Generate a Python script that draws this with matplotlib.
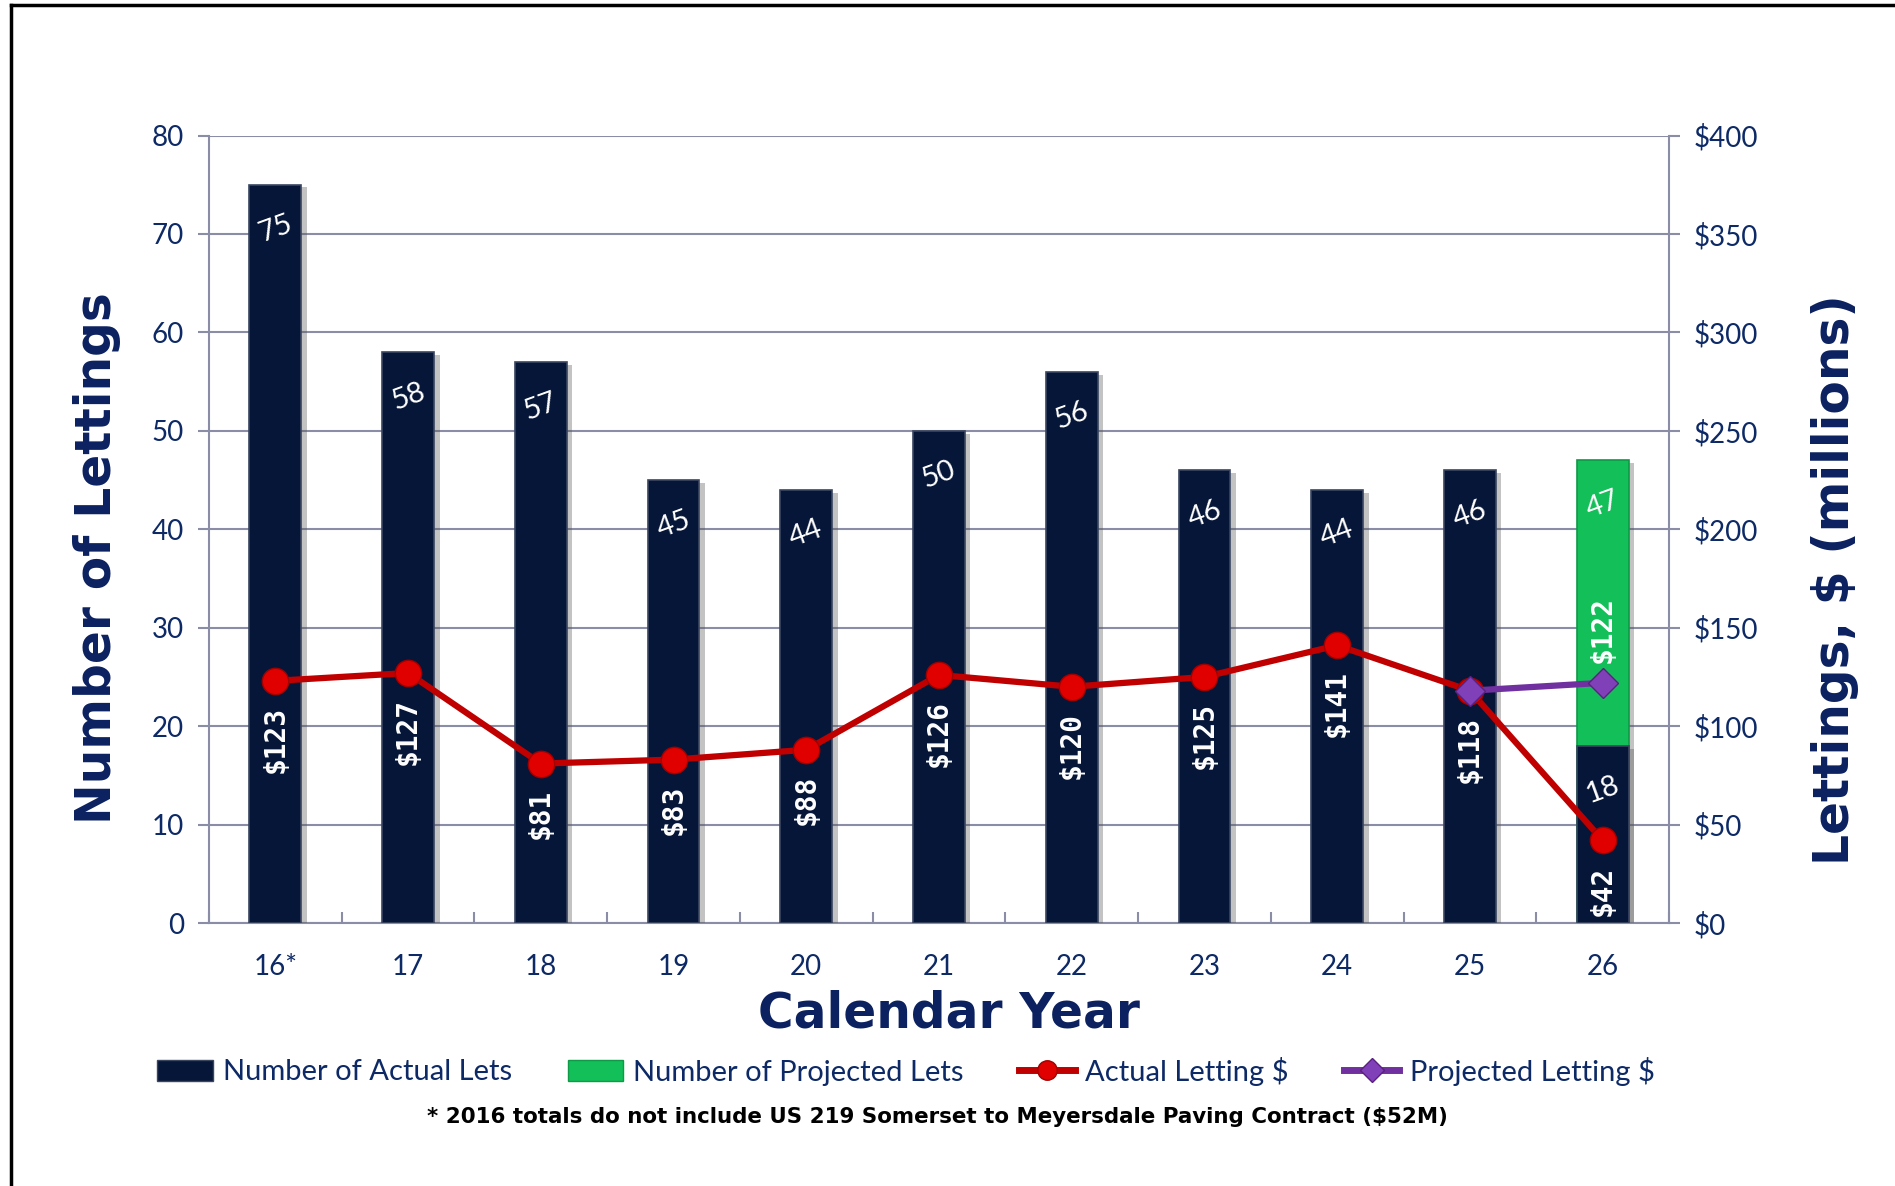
import matplotlib
matplotlib.use("Agg")
import matplotlib.pyplot as plt
import matplotlib.patheffects as pe
from matplotlib.patches import Patch
from matplotlib.lines import Line2D


# =========================
# DATA
# =========================

years = ["16*", "17", "18", "19", "20", "21", "22", "23", "24", "25", "26"]
actual_lets = [75, 58, 57, 45, 44, 50, 56, 46, 44, 46, 18]
projected_lets = [None, None, None, None, None, None, None, None, None, None, 47]
actual_dollars = [123, 127, 81, 83, 88, 126, 120, 125, 141, 118, 42]
projected_dollars = [None, None, None, None, None, None, None, None, None, 118, 122]

left_ticks = [0, 10, 20, 30, 40, 50, 60, 70, 80]
right_ticks = [0, 50, 100, 150, 200, 250, 300, 350, 400]

# =========================
# STYLE
# =========================

NAVY_TXT = "#0D2A66"
NAVY_TITLE = "#0B2160"
BAR_DARK = "#061638"
BAR_GREEN = "#12BF58"
GRID = "#8A8DA5"
RED = "#C00000"
PURPLE = "#7030A0"
TICK_FONT = "Lato"

W, H = 1895, 1186

fig = plt.figure(figsize=(W / 100, H / 100), dpi=100)
ax = fig.add_axes([209 / W, 1 - 923 / H, (1669 - 209) / W, (923 - 135.5) / H])
ax2 = ax.twinx()

x = list(range(len(years)))
bar_w = 0.39
shadow = [pe.SimplePatchShadow(offset=(4, -2), shadow_rgbFace="#555555", alpha=0.35), pe.Normal()]

# projected bar sits behind the actual bar
for i, v in enumerate(projected_lets):
    if v is not None:
        ax.bar(i, v, width=bar_w, color=BAR_GREEN, edgecolor="#0E9A46",
               linewidth=1.2, zorder=2, path_effects=shadow)
        ax.text(i, v - 4.5, str(v), color="white", fontsize=21, rotation=20,
                ha="center", va="center", family=TICK_FONT, zorder=6)

bars = ax.bar(x, actual_lets, width=bar_w, color=BAR_DARK, edgecolor="#3A4560",
              linewidth=1.2, zorder=3, path_effects=shadow)

for i, v in enumerate(actual_lets):
    ax.text(i, v - 4.5, str(v), color="white", fontsize=21, rotation=20,
            ha="center", va="center", family=TICK_FONT, zorder=6)

# =========================
# LEFT AXIS
# =========================

ax.set_xlim(-0.5, len(years) - 0.5)
ax.set_ylim(0, 80)
ax.set_yticks(left_ticks)
ax.set_xticks(x)
ax.set_xticklabels(years)
ax.set_xticks([i + 0.5 for i in range(-1, len(years))], minor=True)
ax.tick_params(axis="x", which="major", length=0, pad=22, labelsize=20, labelcolor=NAVY_TXT)
ax.tick_params(axis="x", which="minor", direction="in", length=8, width=1.5, color=GRID)
ax.tick_params(axis="y", length=8, width=1.5, color=GRID, labelsize=20,
               labelcolor=NAVY_TXT, pad=10)
for lab in ax.get_xticklabels() + ax.get_yticklabels():
    lab.set_family(TICK_FONT)

ax.grid(axis="y", color=GRID, linewidth=1.5, zorder=0)
ax.set_axisbelow(True)
for side in ["top", "right"]:
    ax.spines[side].set_visible(False)
for side in ["left", "bottom"]:
    ax.spines[side].set_color(GRID)
    ax.spines[side].set_linewidth(1.5)

# =========================
# RIGHT AXIS (DOLLARS)
# =========================

ax2.set_ylim(0, 400)
ax2.set_yticks(right_ticks)
ax2.set_yticklabels([f"${t}" for t in right_ticks])
ax2.tick_params(axis="y", length=8, width=1.5, color=GRID, labelsize=20,
                labelcolor=NAVY_TXT, pad=10)
for lab in ax2.get_yticklabels():
    lab.set_family(TICK_FONT)
for side in ["top", "left", "bottom"]:
    ax2.spines[side].set_visible(False)
ax2.spines["right"].set_color(GRID)
ax2.spines["right"].set_linewidth(1.5)

ax2.plot(x, actual_dollars, color=RED, linewidth=4.5, marker="o", markersize=19,
         markerfacecolor="#E00000", markeredgecolor="#A00000", markeredgewidth=1,
         zorder=4)

px = [i for i, v in enumerate(projected_dollars) if v is not None]
py = [v for v in projected_dollars if v is not None]
ax2.plot(px, py, color=PURPLE, linewidth=4.5, marker="D", markersize=15,
         markerfacecolor="#8040B8", markeredgecolor="#5A2080", markeredgewidth=1,
         zorder=5)

for i, v in enumerate(actual_dollars):
    ax2.annotate(f"${v}", (i, v), xytext=(0, -18), textcoords="offset points",
                 rotation=90, ha="center", va="top", color="white", fontsize=20,
                 family="DejaVu Sans Mono", fontweight="bold", zorder=7)

ax2.annotate(f"${py[-1]}", (px[-1], py[-1]), xytext=(0, 14), textcoords="offset points",
             rotation=90, ha="center", va="bottom", color="white", fontsize=20,
             family="DejaVu Sans Mono", fontweight="bold", zorder=7)

# =========================
# TITLES AND LEGEND
# =========================

fig.text(97 / W, 1 - 558 / H, "Number of Lettings", rotation=90, ha="center", va="center",
         fontsize=35, fontweight="bold", color=NAVY_TITLE)
fig.text(1835 / W, 1 - 580 / H, "Lettings, $ (millions)", rotation=90, ha="center",
         va="center", fontsize=35, fontweight="bold", color=NAVY_TITLE)
fig.text(949 / W, 1 - 1013 / H, "Calendar Year", ha="center", va="center",
         fontsize=35, fontweight="bold", color=NAVY_TITLE)

handles = [
    Patch(facecolor=BAR_DARK, edgecolor="#3A4560"),
    Patch(facecolor=BAR_GREEN, edgecolor="#0E9A46"),
    Line2D([0], [0], color=RED, linewidth=5, marker="o", markersize=14,
           markerfacecolor="#E00000", markeredgecolor="#A00000"),
    Line2D([0], [0], color=PURPLE, linewidth=5, marker="D", markersize=12,
           markerfacecolor="#8040B8", markeredgecolor="#5A2080"),
]
labels = ["Number of Actual Lets", "Number of Projected Lets", "Actual Letting $",
          "Projected Letting $"]
leg = fig.legend(handles, labels, loc="center", bbox_to_anchor=(906 / W, 1 - 1071 / H),
                 ncol=4, frameon=False, handlelength=1.9, handleheight=0.7,
                 handletextpad=0.35, columnspacing=1.9,
                 prop={"family": TICK_FONT, "size": 21})
for t in leg.get_texts():
    t.set_color(NAVY_TXT)

fig.text(937 / W, 1 - 1117 / H,
         "* 2016 totals do not include US 219 Somerset to Meyersdale Paving Contract ($52M)",
         ha="center", va="center", fontsize=15.4, fontweight="bold", color="black")

# outer frame (left and top edges)
fig.add_artist(Line2D([11 / W, 11 / W], [0, 1 - 5 / H], transform=fig.transFigure,
                      color="black", linewidth=2.5))
fig.add_artist(Line2D([11 / W, 1], [1 - 5 / H, 1 - 5 / H], transform=fig.transFigure,
                      color="black", linewidth=2.5))

fig.savefig("out.png", dpi=100, facecolor="white")
